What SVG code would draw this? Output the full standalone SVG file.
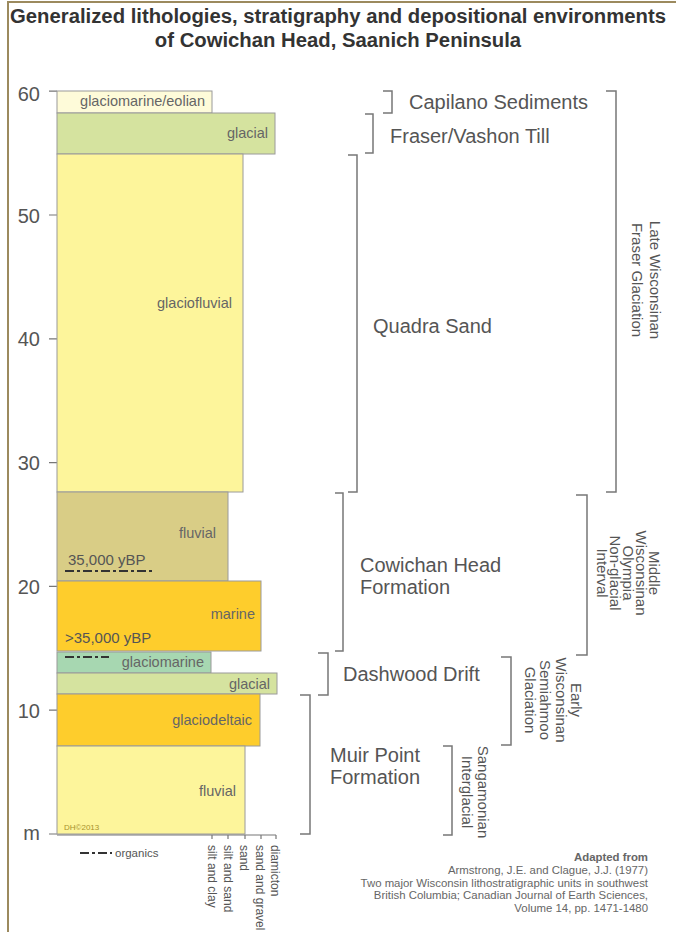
<svg xmlns="http://www.w3.org/2000/svg" width="676" height="932" viewBox="0 0 676 932">
<style>
.title{font-family:"Liberation Sans",Arial,sans-serif;font-weight:bold;font-size:20.3px;fill:#333;text-anchor:middle}
.ax{font-family:"Liberation Sans",Arial,sans-serif;font-size:20px;fill:#555;text-anchor:end}
.box{stroke:#9a9a9a;stroke-width:1}
.lab{font-family:"Liberation Sans",Arial,sans-serif;font-size:14.5px;fill:#666;text-anchor:end}
.age{font-family:"Liberation Sans",Arial,sans-serif;font-size:15px;fill:#555}
.unit{font-family:"Liberation Sans",Arial,sans-serif;font-size:20px;fill:#555}
.per{font-family:"Liberation Sans",Arial,sans-serif;font-size:15px;fill:#555;text-anchor:middle}
.grain{font-family:"Liberation Sans",Arial,sans-serif;font-size:12px;fill:#555}
.cite{font-family:"Liberation Sans",Arial,sans-serif;font-size:11.4px;fill:#666;text-anchor:end}
.br{fill:none;stroke:#777;stroke-width:1.5}
.org{stroke:#333;stroke-width:2;stroke-dasharray:9 3 3 3;fill:none}
.tick{stroke:#777;stroke-width:1.2;fill:none}
</style>
<rect x="0" y="0" width="676" height="932" fill="#fff"/>
<path d="M8 932 V2 H676" fill="none" stroke="#9c8a5e" stroke-width="2"/>
<g id="title">
<text class="title" x="338" y="23">Generalized lithologies, stratigraphy and depositional environments</text>
<text class="title" x="338" y="47">of Cowichan Head, Saanich Peninsula</text>
</g>
<g id="axis">
<path class="tick" d="M49 91.2H57M49 215H57M49 338.8H57M49 462.6H57M49 586.4H57M49 710.2H57M49 834H57"/>
<text class="ax" x="40" y="101">60</text>
<text class="ax" x="40" y="223">50</text>
<text class="ax" x="40" y="346">40</text>
<text class="ax" x="40" y="470">30</text>
<text class="ax" x="40" y="594">20</text>
<text class="ax" x="40" y="718">10</text>
<text class="ax" x="40" y="840">m</text>
</g>
<g id="col-glaciomarine-eolian">
<rect class="box" x="57" y="91" width="155" height="22" fill="#fefbd9"/>
<text class="lab" x="205" y="106">glaciomarine/eolian</text>
</g>
<g id="col-glacial-top">
<rect class="box" x="57" y="113" width="218" height="41" fill="#d5e39f"/>
<text class="lab" x="268" y="138">glacial</text>
</g>
<g id="col-glaciofluvial">
<rect class="box" x="57" y="154" width="186" height="338" fill="#fdf59b"/>
<text class="lab" x="232" y="308" font-size="13">glaciofluvial</text>
</g>
<g id="col-fluvial-upper">
<rect class="box" x="57" y="492" width="171" height="89" fill="#d9cd86"/>
<text class="lab" x="216" y="538">fluvial</text>
<text class="age" x="68" y="565">35,000 yBP</text>
<path class="org" d="M65 571H153"/>
</g>
<g id="col-marine">
<rect class="box" x="57" y="581" width="204" height="70" fill="#fecd2c"/>
<text class="lab" x="255" y="619">marine</text>
<text class="age" x="65" y="643">&gt;35,000 yBP</text>
</g>
<g id="col-glaciomarine">
<rect class="box" x="57" y="652" width="154" height="21" fill="#a7d7b1"/>
<path class="org" d="M65 657H109"/>
<text class="lab" x="204" y="667">glaciomarine</text>
</g>
<g id="col-glacial-lower">
<rect class="box" x="57" y="673" width="220" height="21" fill="#d5e39f"/>
<text class="lab" x="270" y="689">glacial</text>
</g>
<g id="col-glaciodeltaic">
<rect class="box" x="57" y="694" width="203" height="52" fill="#fecd2c"/>
<text class="lab" x="252" y="725">glaciodeltaic</text>
</g>
<g id="col-fluvial-lower">
<rect class="box" x="57" y="746" width="188" height="88" fill="#fdf59b"/>
<text class="lab" x="236" y="796">fluvial</text>
<text x="64" y="830" font-family="Liberation Sans, Arial, sans-serif" font-size="8" fill="#a8922e">DH©2013</text>
</g>
<g id="grain-axis">
<path class="tick" d="M57 835H276M212 835V839M228 835V839M245 835V839M261 835V839M276 835V839"/>
<text class="grain" transform="translate(208,845) rotate(90)">silt and clay</text>
<text class="grain" transform="translate(224,845) rotate(90)">silt and sand</text>
<text class="grain" transform="translate(240,845) rotate(90)">sand</text>
<text class="grain" transform="translate(256,845) rotate(90)">sand and gravel</text>
<text class="grain" transform="translate(271,845) rotate(90)">diamicton</text>
</g>
<g id="legend">
<path class="org" d="M80 853H112"/>
<text x="115" y="857" font-family="Liberation Sans, Arial, sans-serif" font-size="11.5" fill="#555">organics</text>
</g>
<g id="connectors">
<path class="br" d="M383 91H392V113H383"/>
<path class="br" d="M365 114H373V153H365"/>
<path class="br" d="M348 155H357V492H348"/>
<path class="br" d="M335 493H343V651H335"/>
<path class="br" d="M318 653H328V695H318"/>
<path class="br" d="M300 695H310V834H300"/>
<path class="br" d="M443 746H452V835H443"/>
<path class="br" d="M501 657H511V745H501"/>
<path class="br" d="M576 495H587V655H576"/>
<path class="br" d="M606 91H616V492H606"/>
</g>
<g id="unit-capilano"><text class="unit" x="409" y="109">Capilano Sediments</text></g>
<g id="unit-fraser"><text class="unit" x="390" y="143">Fraser/Vashon Till</text></g>
<g id="unit-quadra"><text class="unit" x="373" y="333">Quadra Sand</text></g>
<g id="unit-cowichan"><text class="unit" x="360" y="572">Cowichan Head</text><text class="unit" x="360" y="594">Formation</text></g>
<g id="unit-dashwood"><text class="unit" x="343" y="681">Dashwood Drift</text></g>
<g id="unit-muir"><text class="unit" x="330" y="762">Muir Point</text><text class="unit" x="330" y="784">Formation</text></g>
<g id="period-late">
<text class="per" transform="translate(650,280) rotate(90)"><tspan x="0" y="0">Late Wisconsinan</tspan><tspan x="0" dy="18">Fraser Glaciation</tspan></text>
</g>
<g id="period-middle">
<text class="per" font-size="13.5" transform="translate(649,573) rotate(90)"><tspan x="0" y="0">Middle</tspan><tspan x="0" dy="13">Wisconsinan</tspan><tspan x="0" dy="13">Olympia</tspan><tspan x="0" dy="13">Non-glacial</tspan><tspan x="0" dy="13">Interval</tspan></text>
</g>
<g id="period-early">
<text class="per" transform="translate(571,700) rotate(90)"><tspan x="0" y="0">Early</tspan><tspan x="0" dy="15.5">Wisconsinan</tspan><tspan x="0" dy="15.5">Semiahmoo</tspan><tspan x="0" dy="15.5">Glaciation</tspan></text>
</g>
<g id="period-sangamonian">
<text class="per" transform="translate(478,792) rotate(90)"><tspan x="0" y="0">Sangamonian</tspan><tspan x="0" dy="16">Interglacial</tspan></text>
</g>
<g id="citation">
<text class="cite" x="648" y="861" font-weight="bold">Adapted from</text>
<text class="cite" x="648" y="874">Armstrong, J.E. and Clague, J.J. (1977)</text>
<text class="cite" x="648" y="887">Two major Wisconsin lithostratigraphic units in southwest</text>
<text class="cite" x="648" y="899">British Columbia; Canadian Journal of Earth Sciences,</text>
<text class="cite" x="648" y="912">Volume 14, pp. 1471-1480</text>
</g>
</svg>
